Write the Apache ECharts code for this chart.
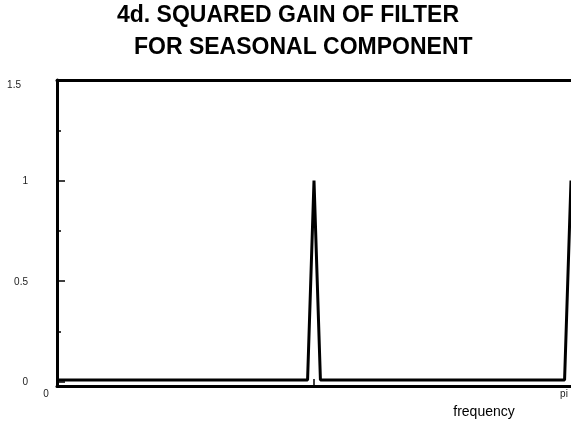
<!DOCTYPE html>
<html>
<head>
<meta charset="utf-8">
<script src="https://cdn.jsdelivr.net/npm/echarts@6/dist/echarts.min.js"></script>
<style>
html,body{margin:0;padding:0;background:#fff;}
#chart{width:571px;height:425px;}
</style>
</head>
<body>
<div id="chart"></div>
<script>
// ---- data ----
var titleLine1 = '4d. SQUARED GAIN OF FILTER';
var titleLine2 = 'FOR SEASONAL COMPONENT';
var xAxisName = 'frequency';
// frequency (radians) and squared gain
var freq = [0, 1.5315, 1.5708, 1.6101, 3.1023, 3.1416];
var gain = [0.008, 0.008, 1.0, 0.008, 0.008, 1.0];
var yTickValues = [0, 0.5, 1, 1.5];
var yTickLabels = ['0', '0.5', '1', '1.5'];
var yMinorTicks = [0.25, 0.75, 1.25];
var xLabelValues = [0, Math.PI];
var xLabelTexts = ['0', 'pi'];
var xTickValues = [Math.PI / 2];

var FONT = 'Liberation Sans, Arial, Helvetica, sans-serif';
var chart = echarts.init(document.getElementById('chart'), null, {renderer: 'canvas'});
var yMin = -0.022, yMax = 1.5;

var option = {
  animation: false,
  backgroundColor: '#fff',
  title: [
    {text: titleLine1, left: 117, top: 4, padding: 0,
     textStyle: {fontFamily: FONT, fontWeight: 'bold', fontSize: 23, lineHeight: 24, color: '#000'}},
    {text: titleLine2, left: 134, top: 36, padding: 0,
     textStyle: {fontFamily: FONT, fontWeight: 'bold', fontSize: 23, lineHeight: 24, color: '#000'}}
  ],
  grid: {left: 57, width: 515, top: 80, height: 306, containLabel: false},
  xAxis: [
    {
      type: 'value', min: 0, max: Math.PI, position: 'bottom',
      axisLine: {show: true, onZero: false, lineStyle: {color: '#000', width: 3}},
      axisTick: {show: true, inside: true, length: 7, customValues: xTickValues,
                 lineStyle: {color: '#000', width: 1.5}},
      axisLabel: {show: true, customValues: xLabelValues, margin: 3,
        formatter: function (v) {
          var i = xLabelValues.indexOf(v);
          var t = i >= 0 ? xLabelTexts[i] : '';
          return i === 0 ? '{z|' + t + '}' : '{p|' + t + '}';
        },
        rich: {
          z: {fontFamily: FONT, fontSize: 10, color: '#222', padding: [0, 22, 0, 0]},
          p: {fontFamily: FONT, fontSize: 10, color: '#222', padding: [0, 14, 4, 0]}
        }
      },
      splitLine: {show: false},
      name: xAxisName, nameLocation: 'end', nameGap: -87,
      nameTextStyle: {fontFamily: FONT, fontSize: 14, color: '#000', align: 'center',
                      verticalAlign: 'top', lineHeight: 14, padding: [19, 0, 0, 0]}
    },
    {
      type: 'value', min: 0, max: Math.PI, position: 'top',
      axisLine: {show: true, onZero: false, lineStyle: {color: '#000', width: 3}},
      axisTick: {show: false}, axisLabel: {show: false}, splitLine: {show: false}
    }
  ],
  yAxis: [
    {
      type: 'value', min: yMin, max: yMax, position: 'left',
      axisLine: {show: true, onZero: false, lineStyle: {color: '#000', width: 3}},
      axisTick: {show: true, inside: true, length: 8, customValues: yTickValues,
                 lineStyle: {color: '#000', width: 1.5}},
      axisLabel: {show: true, customValues: yTickValues, margin: 29, align: 'right',
        formatter: function (v) {
          var i = yTickValues.indexOf(v);
          var t = i >= 0 ? yTickLabels[i] : '';
          return v === 1.5 ? '{t|' + t + '}' : '{n|' + t + '}';
        },
        rich: {
          t: {fontFamily: FONT, fontSize: 10, color: '#222', padding: [10, 7, 0, 0]},
          n: {fontFamily: FONT, fontSize: 10, color: '#222', padding: [2, 0, 0, 0]}
        }
      },
      splitLine: {show: false}
    },
    {
      type: 'value', min: yMin, max: yMax, position: 'left',
      axisLine: {show: false, onZero: false},
      axisTick: {show: true, inside: true, length: 4, customValues: yMinorTicks,
                 lineStyle: {color: '#000', width: 1.5}},
      axisLabel: {show: false}, splitLine: {show: false}
    }
  ],
  series: [{
    type: 'line',
    xAxisIndex: 0, yAxisIndex: 0,
    data: freq.map(function (f, i) { return [f, gain[i]]; }),
    symbol: 'none',
    lineStyle: {color: '#000', width: 3},
    clip: false
  }]
};
chart.setOption(option);
</script>
</body>
</html>
